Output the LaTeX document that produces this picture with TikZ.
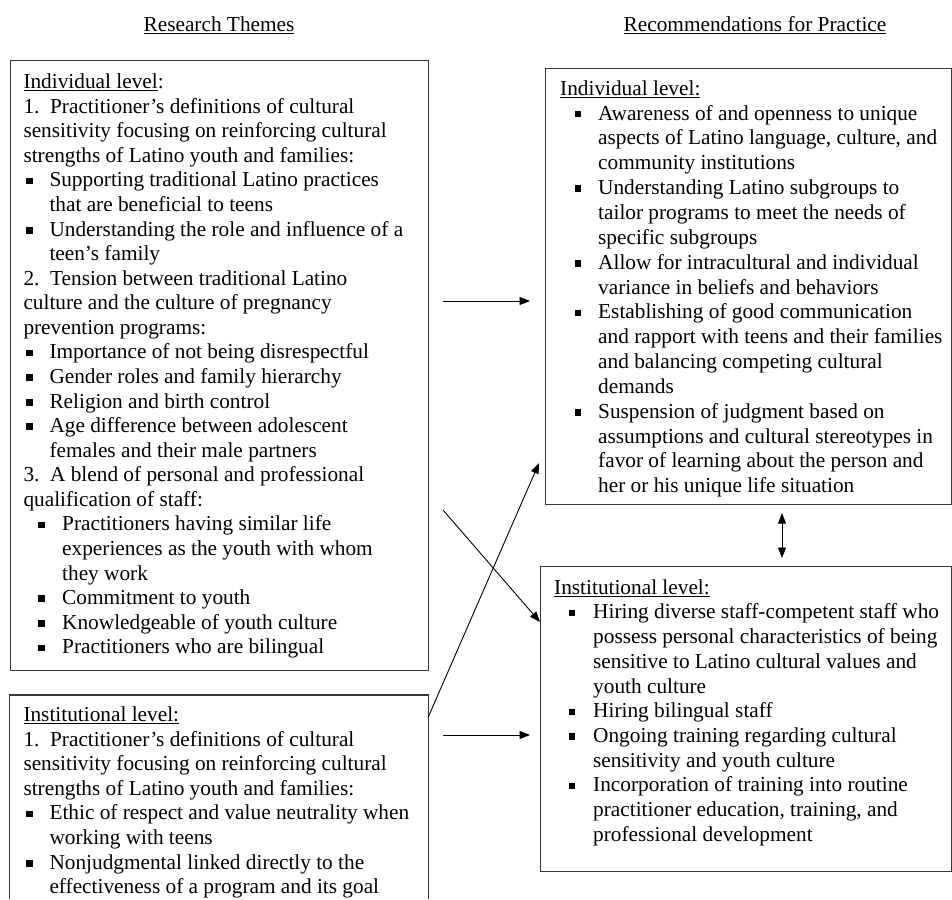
\documentclass[tikz,border=0pt]{standalone}
\usepackage{fontspec}
\setmainfont{Liberation Serif}
\usetikzlibrary{arrows.meta}
\newsavebox\myulbox
\newcommand\myul[1]{\sbox\myulbox{#1}\rlap{\rule[-2.4pt]{\wd\myulbox}{1pt}}\usebox\myulbox}
\newcommand\sqb{\rule[2.6pt]{6.6pt}{6.6pt}}
\newcommand\bi[3]{\hspace*{#1pt}\makebox[\dimexpr#2pt-#1pt\relax][l]{\sqb}#3}
\newcommand\ci[2]{\hspace*{#1pt}#2}
\begin{document}
\begin{tikzpicture}[x=1pt,y=-1pt,
  box/.style={draw=black!78, line width=1.1pt, inner sep=0pt, anchor=north west},
  boxline/.style={draw=black!78, line width=1.1pt},
  txt/.style={inner sep=0pt, anchor=north west, align=left},
  arr/.style={line width=0.9pt, -{Triangle[length=10.5pt,width=8pt]}},
  darr/.style={line width=0.9pt, {Triangle[length=10.5pt,width=8pt]}-{Triangle[length=10.5pt,width=8pt]}}]
\useasboundingbox (0,0) rectangle (952,899);

% headers
\node[inner sep=0pt, anchor=base, font=\fontsize{21.3}{24.6}\selectfont] (hl) at (219,32) {\myul{Research Themes}};
\node[inner sep=0pt, anchor=base, font=\fontsize{21.3}{24.6}\selectfont] (hr) at (755,32) {\myul{Recommendations for Practice}};

% boxes
\node[box, minimum width=418.5pt, minimum height=610pt] (L1) at (9.5,60) {};
\node[inner sep=0pt, anchor=north west, minimum width=418.5pt, minimum height=204pt] (L2) at (9.5,695) {};
\draw[boxline] (L2.south west) -- (L2.north west) -- (L2.north east) -- (L2.south east);
\node[box, minimum width=405.5pt, minimum height=436pt] (R1) at (545,68) {};
\node[box, minimum width=410.5pt, minimum height=305pt] (R2) at (540,566) {};

% texts
\node[txt, font=\fontsize{21.3}{24.57}\selectfont] (T1) at (23.3,71.3) {\strut\myul{Individual level}:\\
1.\ \ Practitioner’s definitions of cultural\\
sensitivity focusing on reinforcing cultural\\
strengths of Latino youth and families:\\
\bi{2.7}{26}{Supporting traditional Latino practices}\\
\ci{26}{that are beneficial to teens}\\
\bi{2.7}{26}{Understanding the role and influence of a}\\
\ci{26}{teen’s family}\\
2.\ \ Tension between traditional Latino\\
culture and the culture of pregnancy\\
prevention programs:\\
\bi{2.7}{26}{Importance of not being disrespectful}\\
\bi{2.7}{26}{Gender roles and family hierarchy}\\
\bi{2.7}{26}{Religion and birth control}\\
\bi{2.7}{26}{Age difference between adolescent}\\
\ci{26}{females and their male partners}\\
3.\ \ A blend of personal and professional\\
qualification of staff:\\
\bi{14.7}{38.7}{Practitioners having similar life}\\
\ci{38.7}{experiences as the youth with whom}\\
\ci{38.7}{they work}\\
\bi{14.7}{38.7}{Commitment to youth}\\
\bi{14.7}{38.7}{Knowledgeable of youth culture}\\
\bi{14.7}{38.7}{Practitioners who are bilingual}};

\node[txt, font=\fontsize{21.3}{24.57}\selectfont] (T2) at (23.3,704.3) {\strut\myul{Institutional level:}\\
1.\ \ Practitioner’s definitions of cultural\\
sensitivity focusing on reinforcing cultural\\
strengths of Latino youth and families:\\
\bi{2.7}{26}{Ethic of respect and value neutrality when}\\
\ci{26}{working with teens}\\
\bi{2.7}{26}{Nonjudgmental linked directly to the}\\
\ci{26}{effectiveness of a program and its goal}};

\node[txt, font=\fontsize{21.3}{24.85}\selectfont] (T3) at (560,77.6) {\strut\myul{Individual level:}\\
\bi{14.5}{38}{Awareness of and openness to unique}\\
\ci{38}{aspects of Latino language, culture, and}\\
\ci{38}{community institutions}\\
\bi{14.5}{38}{Understanding Latino subgroups to}\\
\ci{38}{tailor programs to meet the needs of}\\
\ci{38}{specific subgroups}\\
\bi{14.5}{38}{Allow for intracultural and individual}\\
\ci{38}{variance in beliefs and behaviors}\\
\bi{14.5}{38}{Establishing of good communication}\\
\ci{38}{and rapport with teens and their families}\\
\ci{38}{and balancing competing cultural}\\
\ci{38}{demands}\\
\bi{14.5}{38}{Suspension of judgment based on}\\
\ci{38}{assumptions and cultural stereotypes in}\\
\ci{38}{favor of learning about the person and}\\
\ci{38}{her or his unique life situation}};

\node[txt, font=\fontsize{21.3}{24.7}\selectfont] (T4) at (554,576.7) {\strut\myul{Institutional level:}\\
\bi{14.5}{39}{Hiring diverse staff-competent staff who}\\
\ci{39}{possess personal characteristics of being}\\
\ci{39}{sensitive to Latino cultural values and}\\
\ci{39}{youth culture}\\
\bi{14.5}{39}{Hiring bilingual staff}\\
\bi{14.5}{39}{Ongoing training regarding cultural}\\
\ci{39}{sensitivity and youth culture}\\
\bi{14.5}{39}{Incorporation of training into routine}\\
\ci{39}{practitioner education, training, and}\\
\ci{39}{professional development}};

% connectors
\coordinate (h1s) at (443,301);
\draw[arr, shorten >=15pt] (h1s) -- (h1s -| R1.west);
\coordinate (h2s) at (443,735);
\draw[arr, shorten >=10pt] (h2s) -- (h2s -| R2.west);
\coordinate (us) at (428,717.6);
\coordinate (ue) at (539,463);
\draw[arr] (us) -- (ue);
\coordinate (ds) at (443,510);
\coordinate (de) at (540,622);
\draw[arr] (ds) -- (de);
\coordinate (dx) at (782,0);
\draw[darr, shorten <=8pt, shorten >=8pt] (R1.south -| dx) -- (R2.north -| dx);
\end{tikzpicture}
\end{document}
